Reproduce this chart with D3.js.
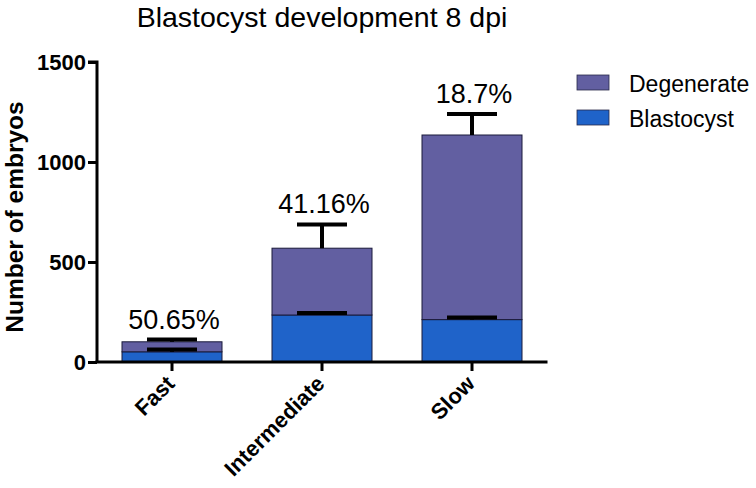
<!DOCTYPE html>
<html>
<head>
<meta charset="utf-8">
<script src="https://cdn.jsdelivr.net/npm/d3@7"></script>
<style>
  body { margin: 0; background: #fff; }
  text { font-family: "Liberation Sans", Arial, sans-serif; }
</style>
</head>
<body>
<svg id="chart" width="756" height="488"></svg>
<script>
const categories = ["Fast", "Intermediate", "Slow"];
const blastocyst = [51, 235, 212];
const blastocystErr = [11, 10, 11];
const degenerate = [50, 334, 923];
const degenerateErr = [11, 119, 105];
const percentLabels = ["50.65%", "41.16%", "18.7%"];
const yTicks = [0, 500, 1000, 1500];
const seriesNames = ["Degenerate", "Blastocyst"];
const colors = { Degenerate: "#625fa1", Blastocyst: "#1f63c9" };

const svg = d3.select("#chart");
const x = d3.scaleBand().domain(categories).range([97, 547]).paddingInner(1/3).paddingOuter(1/6);
const y = d3.scaleLinear().domain([0, 1500]).range([362, 62]);

// bars
categories.forEach((c, i) => {
  const b = blastocyst[i], d = degenerate[i];
  const g = svg.append("g");
  g.append("rect").attr("x", x(c)).attr("width", x.bandwidth())
    .attr("y", y(b)).attr("height", y(0) - y(b))
    .attr("fill", colors.Blastocyst).attr("stroke", "#1a1a3a").attr("stroke-width", 1);
  g.append("rect").attr("x", x(c)).attr("width", x.bandwidth())
    .attr("y", y(b + d)).attr("height", y(b) - y(b + d))
    .attr("fill", colors.Degenerate).attr("stroke", "#1a1a3a").attr("stroke-width", 1);
});

// error bars
function errBar(cx, top, val) {
  svg.append("line").attr("x1", cx).attr("x2", cx).attr("y1", y(top)).attr("y2", y(val))
    .attr("stroke", "#000").attr("stroke-width", 4);
  svg.append("line").attr("x1", cx - x.bandwidth() / 4).attr("x2", cx + x.bandwidth() / 4)
    .attr("y1", y(val)).attr("y2", y(val)).attr("stroke", "#000").attr("stroke-width", 4);
}
categories.forEach((c, i) => {
  const cx = x(c) + x.bandwidth() / 2;
  const b = blastocyst[i], t = blastocyst[i] + degenerate[i];
  errBar(cx, b, b + blastocystErr[i]);
  errBar(cx, t, t + degenerateErr[i]);
  svg.append("text").attr("x", cx + 2).attr("y", y(t + degenerateErr[i]) - 11)
    .attr("text-anchor", "middle").attr("font-size", 27).attr("fill", "#000")
    .text(percentLabels[i]);
});

// y axis
const yAxis = svg.append("g").attr("transform", "translate(97,0)")
  .call(d3.axisLeft(y).tickValues(yTicks).tickSize(9).tickPadding(2).tickFormat(d3.format("d")));
yAxis.select(".domain").attr("stroke", "#000").attr("stroke-width", 3).attr("d", "M-9,62H0V362");
yAxis.selectAll(".tick line").attr("stroke", "#000").attr("stroke-width", 3);
yAxis.selectAll(".tick text").attr("font-size", 22).attr("font-weight", "bold").attr("fill", "#000")
  .attr("font-family", "Liberation Sans, Arial, sans-serif");

// x axis
const xAxis = svg.append("g").attr("transform", "translate(0,362)")
  .call(d3.axisBottom(x).tickSize(9).tickSizeOuter(0));
xAxis.select(".domain").attr("stroke", "#000").attr("stroke-width", 3).attr("d", "M95.5,0H547.5");
xAxis.selectAll(".tick line").attr("stroke", "#000").attr("stroke-width", 3);
xAxis.selectAll(".tick text").attr("font-size", 22).attr("font-weight", "bold").attr("fill", "#000")
  .attr("font-family", "Liberation Sans, Arial, sans-serif")
  .attr("text-anchor", "end").attr("dy", 0).attr("y", 0)
  .attr("transform", "translate(4,23) rotate(-45)");

// y label
svg.append("text").attr("transform", "translate(23,217) rotate(-90)")
  .attr("text-anchor", "middle").attr("font-size", 24.5).attr("font-weight", "bold")
  .text("Number of embryos");

// title
svg.append("text").attr("x", 322).attr("y", 27).attr("text-anchor", "middle")
  .attr("font-size", 28.5).text("Blastocyst development 8 dpi");

// legend
seriesNames.forEach((s, i) => {
  const ly = 75 + i * 35;
  svg.append("rect").attr("x", 577).attr("y", ly).attr("width", 32).attr("height", 15)
    .attr("fill", colors[s]).attr("stroke", "#2a2a4a").attr("stroke-width", 0.8);
  svg.append("text").attr("x", 629).attr("y", ly + 16.5).attr("font-size", 23).text(s);
});
</script>
</body>
</html>
